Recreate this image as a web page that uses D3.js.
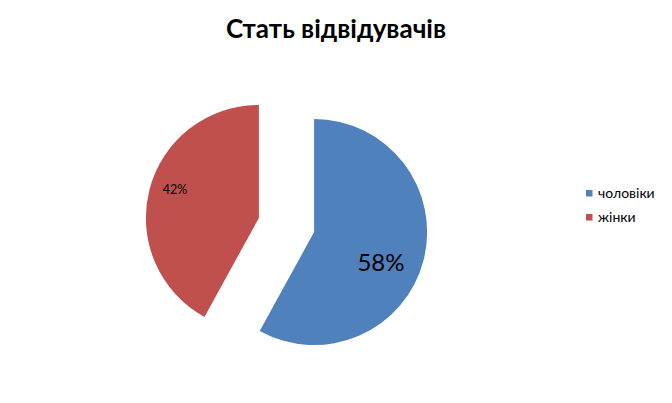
<!DOCTYPE html>
<html><head><meta charset="utf-8">
<script src="https://cdn.jsdelivr.net/npm/d3@7"></script>
<style>body{margin:0;background:#fff}svg{display:block}</style>
</head><body>
<svg id="c" width="672" height="403"></svg>
<script>
const categories = ["чоловіки", "жінки"];
const values = [58, 42];
const labels = ["58%", "42%"];
const colors = ["#4F81BD", "#C0504D"];
const title = "Стать відвідувачів";

const svg = d3.select("#c");
const W = 672, H = 403;
svg.append("rect").attr("width", W).attr("height", H).attr("fill", "#fff");

svg.append("text").attr("x", 336).attr("y", 38).attr("text-anchor", "middle")
  .attr("font-family", "Lato, 'Open Sans', sans-serif").attr("font-weight", "bold")
  .attr("font-size", 26).attr("fill", "#000").text(title);

const cx = 286.5, cy = 225, R = 113, explode = 28.5;
const pie = d3.pie().sort(null).value(d => d)(values);
const arc = d3.arc().innerRadius(0).outerRadius(R);
const g = svg.append("g").attr("transform", `translate(${cx},${cy})`);
pie.forEach((p, i) => {
  const mid = (p.startAngle + p.endAngle) / 2;
  const dx = Math.sin(mid) * explode, dy = -Math.cos(mid) * explode;
  const sg = g.append("g").attr("transform", `translate(${dx},${dy})`);
  sg.append("path").attr("d", arc(p)).attr("fill", colors[i]);
});
// labels
const labelPos = [[381, 263, 24], [175, 190, 12.5]];
labels.forEach((t, i) => {
  svg.append("text").attr("x", labelPos[i][0]).attr("y", labelPos[i][1] + labelPos[i][2] * 0.35)
    .attr("text-anchor", "middle").attr("font-family", "Lato, 'Open Sans', sans-serif")
    .attr("font-size", labelPos[i][2]).attr("fill", "#000").text(t);
});
// legend
const lg = svg.append("g").attr("transform", "translate(586,190)");
categories.forEach((c, i) => {
  const row = lg.append("g").attr("transform", `translate(0,${i * 24})`);
  row.append("rect").attr("width", 6.5).attr("height", 6.5).attr("fill", colors[i]);
  row.append("text").attr("x", 12).attr("y", 8).attr("font-family", "Lato, 'Open Sans', sans-serif")
    .attr("font-size", 14).attr("fill", "#000").text(c);
});
</script>
</body></html>
